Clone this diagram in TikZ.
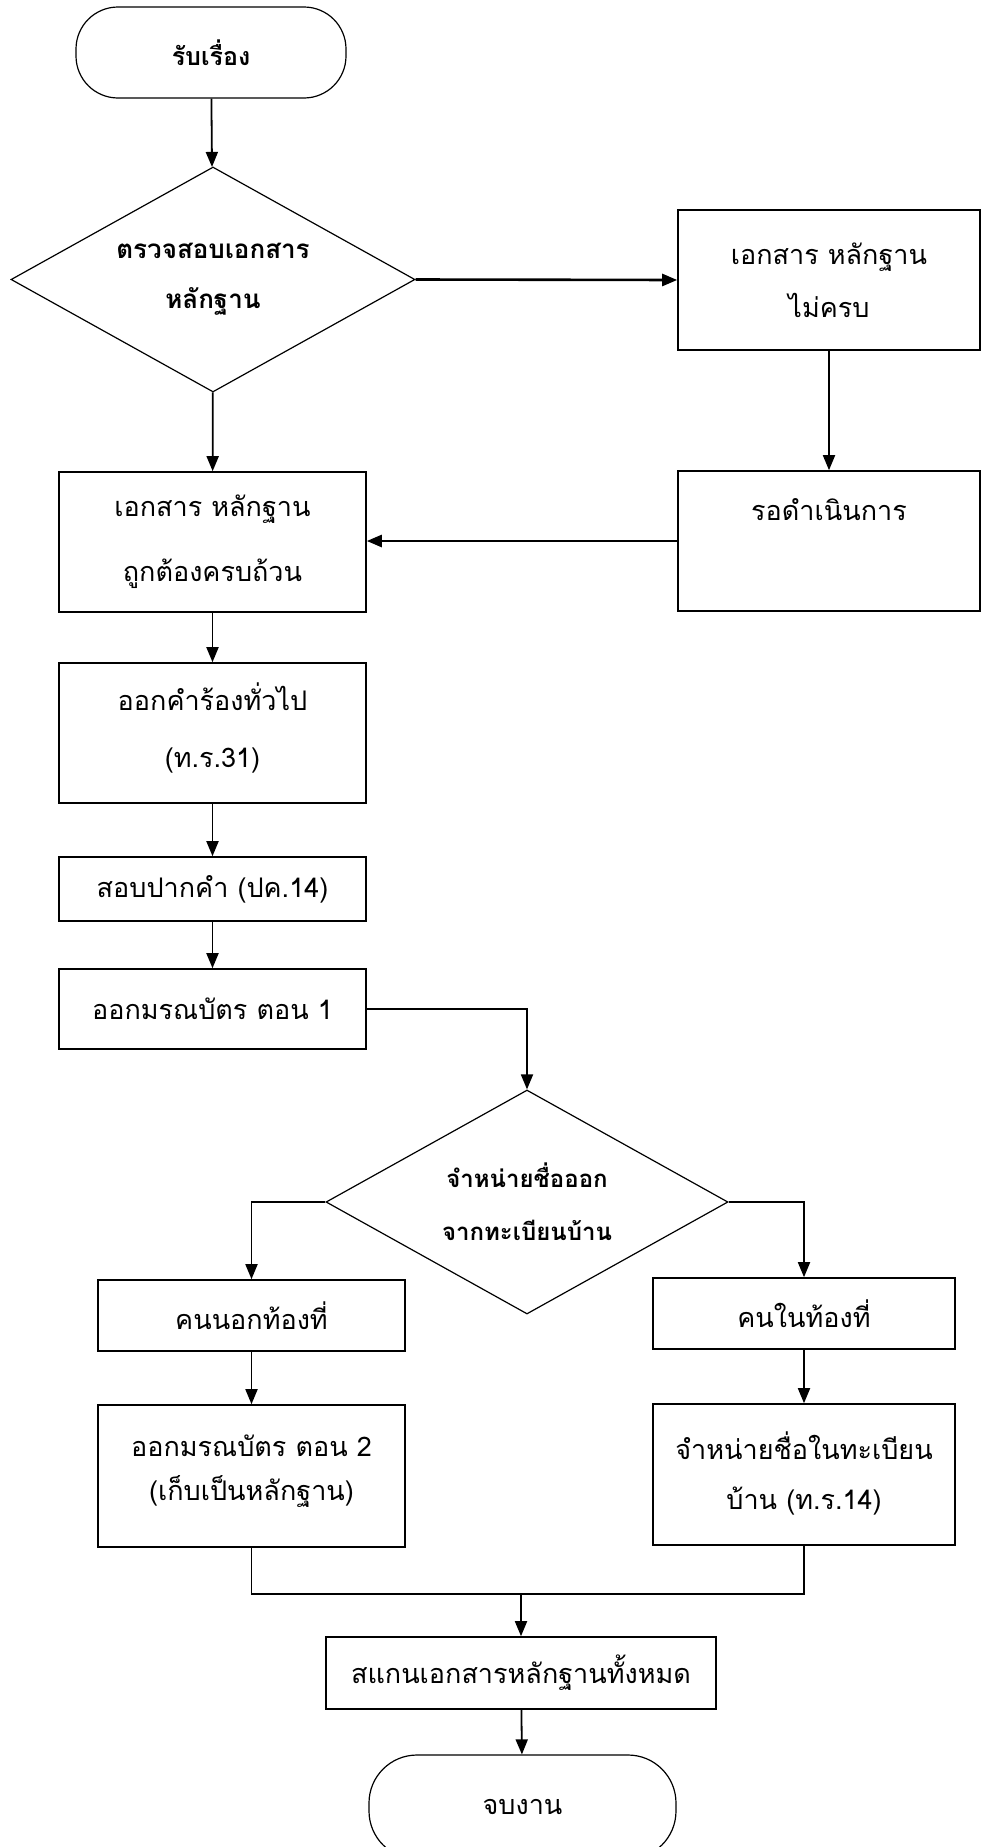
\documentclass[tikz,border=0pt]{standalone}
\usepackage{fontspec}
\setmainfont[Script=Thai]{Loma}
\usetikzlibrary{shapes.geometric, arrows.meta}

\begin{document}
\begin{tikzpicture}[x=1pt, y=-1pt,
    font=\fontsize{27}{44}\selectfont,
    box/.style={draw, rectangle, line width=1.6pt, inner sep=0pt, align=center},
    decision/.style={draw, diamond, line width=1.2pt, inner sep=0pt},
    terminal/.style={draw, rectangle, rounded corners=42pt, line width=1.2pt,
        inner sep=0pt, align=center},
    flow/.style={line width=1.8pt, -{Triangle[length=15pt, width=12pt]}},
    link/.style={line width=1.4pt}]
    \useasboundingbox (0,0) rectangle (982,1847);
    \clip (0,0) rectangle (982,1847);
    % Nodes, left column
    \node[terminal, minimum width=270pt, minimum height=91pt, font=\fontsize{25}{44}\selectfont\bfseries] (start) at (211,52.5) {รับเรื่อง};
    \node[decision, minimum width=404pt, minimum height=225pt,
        label={[align=center, font=\fontsize{26}{44}\selectfont\bfseries]center:ตรวจสอบเอกสาร\\[6pt]หลักฐาน}] (check) at (213,279.5) {};
    \node[box, minimum width=307pt, minimum height=140pt] (complete) at (212.5,542) {เอกสาร หลักฐาน\\[21pt]ถูกต้องครบถ้วน};
    \node[box, minimum width=307pt, minimum height=140pt] (request) at (212.5,733) {ออกคำร้องทั่วไป\\[13pt](ท.ร.31)\\[-28pt]\mbox{}};
    \node[box, minimum width=307pt, minimum height=64pt] (interview) at (212.5,889) {สอบปากคำ (ปค.14)};
    \node[box, minimum width=307pt, minimum height=80pt] (cert1) at (212.5,1009) {ออกมรณบัตร ตอน 1};
    % Nodes, right column
    \node[box, minimum width=302pt, minimum height=140pt] (missing) at (829,280) {เอกสาร หลักฐาน\\[9pt]ไม่ครบ};
    \node[box, minimum width=302pt, minimum height=140pt] (wait) at (829,541) {รอดำเนินการ\\[20pt]\mbox{}};
    % Nodes, lower part
    \node[decision, minimum width=402pt, minimum height=224pt,
        label={[align=center, font=\fontsize{24}{44}\selectfont\bfseries]center:จำหน่ายชื่อออก\\[9pt]จากทะเบียนบ้าน}] (remove) at (527,1202) {};
    \node[box, minimum width=307pt, minimum height=71pt] (outside) at (251.5,1315.5) {คนนอกท้องที่};
    \node[box, minimum width=302pt, minimum height=71pt] (inside) at (804,1313.5) {คนในท้องที่};
    \node[box, minimum width=307pt, minimum height=142pt] (cert2) at (251.5,1476) {ออกมรณบัตร ตอน 2\\(เก็บเป็นหลักฐาน)\\[-28pt]\mbox{}};
    \node[box, minimum width=302pt, minimum height=141pt] (removein) at (804,1474.5) {จำหน่ายชื่อในทะเบียน\\[6pt]บ้าน (ท.ร.14)\\[-36pt]\mbox{}};
    \node[box, minimum width=390pt, minimum height=72pt] (scan) at (521,1673) {สแกนเอกสารหลักฐานทั้งหมด};
    \node[terminal, minimum width=307pt, minimum height=104pt, rounded corners=48pt] (finish) at (522.5,1807) {จบงาน};
    \coordinate (merge) at (521,1594);
    % Arrows
    \draw[flow] (start) -- (check);
    \draw[flow, line width=2.6pt] (check.east) -- (missing.west);
    \draw[flow] (check) -- (complete);
    \draw[flow] (missing) -- (wait);
    \draw[flow, line width=2.6pt] (wait.west) -- (wait.west -| complete.east);
    \draw[flow] (complete) -- (request);
    \draw[flow] (request) -- (interview);
    \draw[flow] (interview) -- (cert1);
    \draw[flow] (cert1.east) -| (remove.north);
    \draw[flow] (remove.west) -| (outside.north);
    \draw[flow] (remove.east) -| (inside.north);
    \draw[flow] (outside) -- (cert2);
    \draw[flow] (inside) -- (removein);
    % Merge
    \draw[link] (cert2.south) -- (cert2.south |- merge) -- (removein.south |- merge) -- (removein.south);
    \draw[flow] (merge) -- (scan.north);
    \draw[flow] (scan) -- (finish);
\end{tikzpicture}
\end{document}
